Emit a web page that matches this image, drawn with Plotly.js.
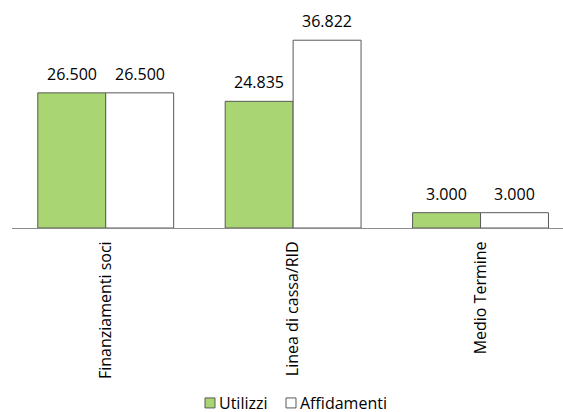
<!DOCTYPE html>
<html>
<head>
<meta charset="utf-8">
<script src="https://cdn.plot.ly/plotly-3.0.1.min.js"></script>
<style>html,body{margin:0;padding:0;background:#fff}#chart{width:563px;height:412px}</style>
</head>
<body>
<div id="chart"></div>
<script>
var categories = ["Finanziamenti soci", "Linea di cassa/RID", "Medio Termine"];
var utilizzi = [26500, 24835, 3000];
var affidamenti = [26500, 36822, 3000];
var seriesNames = ["Utilizzi", "Affidamenti"];
var seriesColors = ["#A9D672", "#FFFFFF"];

var FONT = "Open Sans, DejaVu Sans, sans-serif";
var EDGE = "#595959";

function fmtIt(v) {
  return String(Math.round(v)).replace(/\B(?=(\d{3})+(?!\d))/g, ".");
}

var seriesValues = [utilizzi, affidamenti];

var traces = seriesValues.map(function (vals, i) {
  return {
    type: "bar", name: seriesNames[i], x: categories, y: vals,
    marker: {color: seriesColors[i], line: {color: EDGE, width: 1}},
    hoverinfo: "skip", showlegend: false
  };
});

// value labels above the bars, placed through the axis scales
var annotations = [];
var halfBarPx = 34;
seriesValues.forEach(function (vals, i) {
  vals.forEach(function (v, j) {
    annotations.push({
      x: categories[j], y: v, xref: "x", yref: "y",
      text: fmtIt(v), showarrow: false,
      xanchor: "center", yanchor: "bottom",
      xshift: (i === 0 ? -halfBarPx : halfBarPx), yshift: 6,
      font: {family: FONT, size: 16, color: "#000"}
    });
  });
});

// legend drawn like the original (small square, text right beside)
var legendSquares = [[0.3503, 0.3684], [0.4973, 0.5154]];
var legendTextX = [0.372, 0.519];
var shapes = [];
seriesNames.forEach(function (name, i) {
  shapes.push({
    type: "rect", xref: "paper", yref: "paper",
    x0: legendSquares[i][0], x1: legendSquares[i][1], y0: -0.882, y1: -0.833,
    fillcolor: seriesColors[i], line: {color: EDGE, width: 1}
  });
  annotations.push({
    x: legendTextX[i], y: -0.858, xref: "paper", yref: "paper",
    text: name, showarrow: false, xanchor: "left", yanchor: "middle",
    font: {family: FONT, size: 16, color: "#000"}
  });
});

var layout = {
  width: 563, height: 412,
  margin: {l: 12, r: 0, t: 24, b: 184},
  paper_bgcolor: "#fff", plot_bgcolor: "#fff",
  separators: ",.",
  barmode: "group", bargap: 0.275, bargroupgap: 0,
  font: {family: FONT, size: 16, color: "#000"},
  showlegend: false,
  annotations: annotations,
  shapes: shapes,
  xaxis: {type: "category", range: [-0.5, 2.44], showline: true, linecolor: "#8c8c8c", linewidth: 1,
          ticks: "", tickangle: -90, showgrid: false, zeroline: false, ticklabelstandoff: 6,
          tickfont: {family: FONT, size: 16, color: "#000"}, automargin: false},
  yaxis: {range: [0, 40000], visible: false, showgrid: false, zeroline: false, fixedrange: true}
};

Plotly.newPlot("chart", traces, layout, {displayModeBar: false, staticPlot: true});
</script>
</body>
</html>
